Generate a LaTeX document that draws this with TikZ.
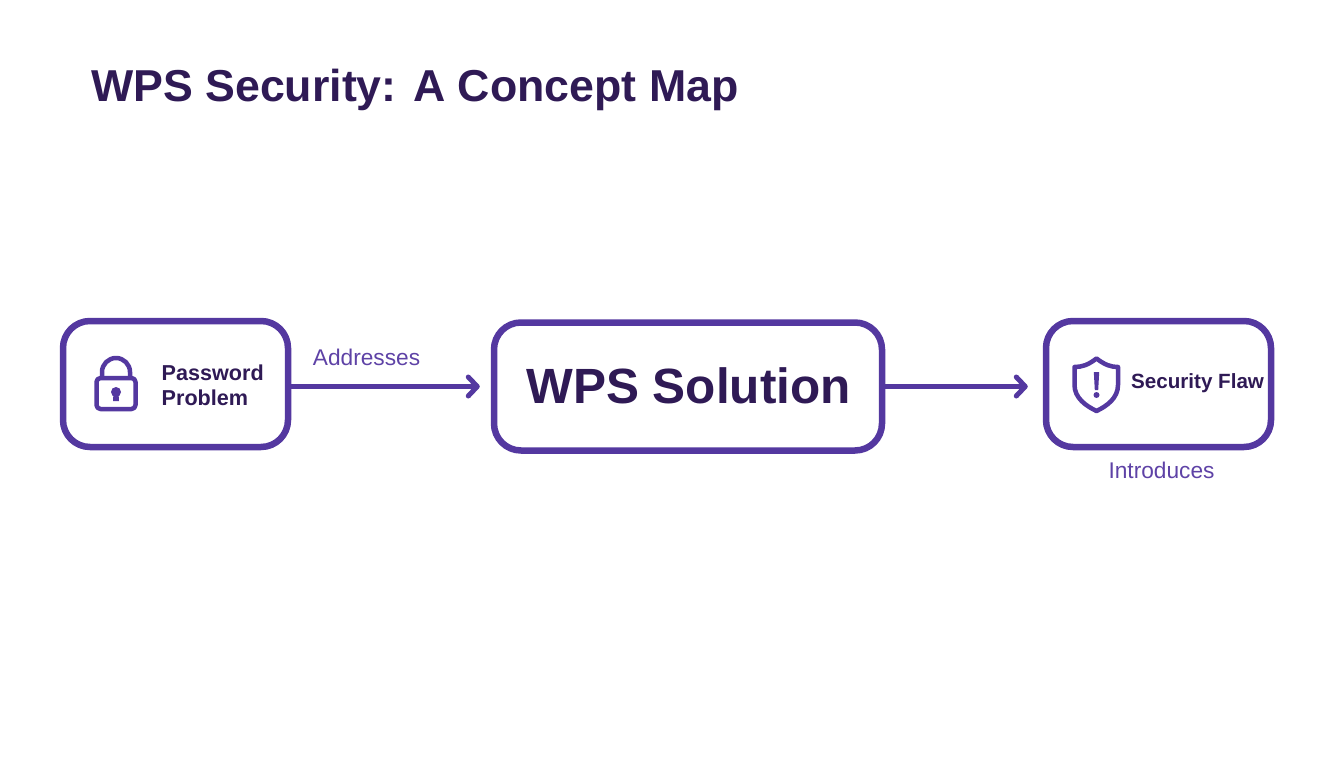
\documentclass[tikz,border=0pt]{standalone}
\usepackage{xcolor}
\usepackage{fontspec}
\setmainfont{Liberation Sans}
\usetikzlibrary{arrows.meta,positioning}
\definecolor{linePurple}{HTML}{5438A0}
\definecolor{inkPurple}{HTML}{2F1A55}
\definecolor{labelPurple}{HTML}{5E42A6}

\begin{document}
\begin{tikzpicture}[
        x = 1pt,
        y = -1pt,
        box/.style = {
                rectangle,
                draw=linePurple,
                line width=6.5pt,
                rounded corners=27pt,
                fill=white,
                inner sep=0pt,
            },
        link/.style = {
                draw=linePurple,
                line width=5pt,
                -{Straight Barb[length=9pt,width=19pt,round,line width=5pt]},
            },
        headline/.style = {
                text=inkPurple,
                font=\fontsize{44.7}{54}\selectfont\bfseries,
                inner sep=0pt,
                anchor=base west,
            },
        boxtext/.style = {
                text=inkPurple,
                font=\fontsize{21.6}{25}\selectfont\bfseries,
                inner sep=0pt,
            },
        verb/.style = {
                text=labelPurple,
                font=\fontsize{22.7}{25}\selectfont,
                inner sep=0pt,
                anchor=base,
            },
        icon/.style = {
                draw=linePurple,
                line width=4.5pt,
                line join=round,
            },
    ]
    \useasboundingbox (0,0) rectangle (1344,768);

    \node[headline] (heading) at (91,102) {WPS Security: A Concept Map};

    \node[box, minimum width=225pt, minimum height=126pt] (problem) at (175.5,384) {};
    \node[box, minimum width=388pt, minimum height=128pt] (solution) at (688,386.5) {};
    \node[box, minimum width=225pt, minimum height=126pt] (flaw) at (1158.5,384) {};

    \node[boxtext, align=left, anchor=base west] (problemText) at (161.5,405) {Password\\Problem};
    \node[boxtext, font=\fontsize{49.5}{60}\selectfont\bfseries] (solutionText) at (688.5,386) {WPS Solution};
    \node[boxtext, font=\fontsize{20.6}{24}\selectfont\bfseries, anchor=base west] (flawText) at (1131,388) {Security Flaw};

    \draw[link, shorten >=11pt] (problem.east |- solution.west) -- (solution.west);
    \draw[link, shorten >=15pt] (solution.east) -- (solution.east -| flaw.west);

    \node[verb] (addresses) at (366.5,365) {Addresses};
    \node[verb] (introduces) at (1161.5,478) {Introduces};

    % lock
    \draw[icon, rounded corners=4pt] (96.5,378) rectangle (135.5,409);
    \draw[icon] (102,378) -- (102,372) arc[start angle=180, end angle=360, radius=14] -- (130,378);
    \fill[linePurple] (116,392) circle[radius=5];
    \fill[linePurple] (113.5,393) -- (118.5,393) -- (119,401) -- (113,401) -- cycle;

    % shield
    \draw[icon] (1096.5,358.5) .. controls (1088,365) and (1082,367) .. (1074.5,367)
        -- (1074.5,385) .. controls (1074.5,398) and (1086,406) .. (1096.5,411)
        .. controls (1107,406) and (1118,398) .. (1118,385)
        -- (1118,367) .. controls (1111,367) and (1105,365) .. (1096.5,358.5) -- cycle;
    \fill[linePurple] (1093.8,372) -- (1099.2,372) -- (1098.2,390) -- (1094.8,390) -- cycle;
    \fill[linePurple] (1096.5,395) circle[radius=3];
\end{tikzpicture}
\end{document}
